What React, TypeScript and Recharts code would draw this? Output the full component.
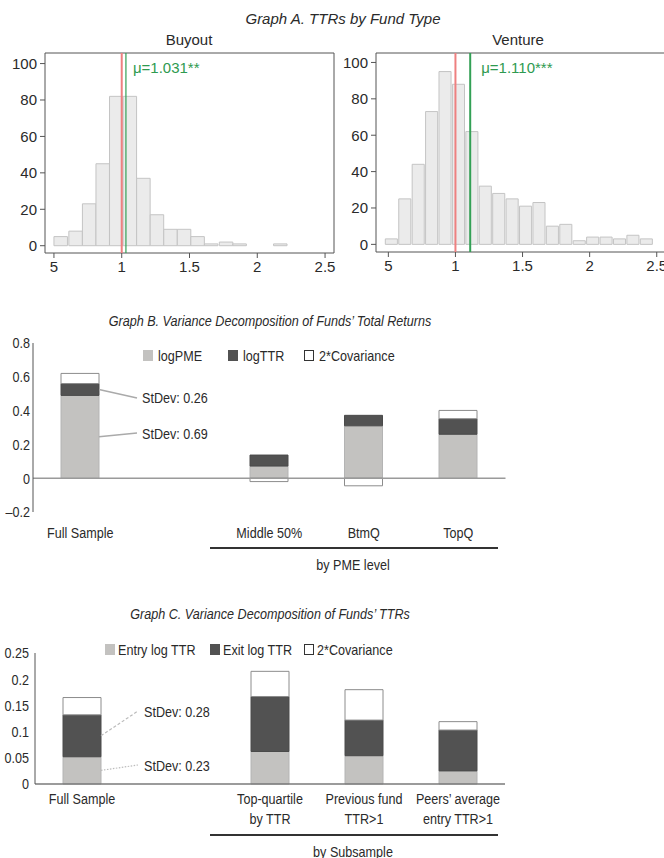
import React from "react";
import {
  Bar,
  BarChart,
  Legend,
  ReferenceArea,
  ReferenceLine,
  XAxis,
  YAxis,
} from "recharts";

// Graph A: histogram bin centres and fund counts
const buyoutBins = [0.55, 0.66, 0.76, 0.86, 0.96, 1.06, 1.16, 1.26, 1.36, 1.46, 1.56, 1.66, 1.77, 1.87, 1.97, 2.07, 2.17];
const buyoutCounts = [5, 8, 23, 45, 82, 82, 37, 17, 9, 9, 5, 1, 2, 1, 0, 0, 1];
const ventureBins = [0.52, 0.62, 0.72, 0.82, 0.92, 1.02, 1.12, 1.22, 1.32, 1.42, 1.52, 1.62, 1.72, 1.82, 1.92, 2.02, 2.12, 2.22, 2.32, 2.42];
const ventureCounts = [3, 25, 44, 73, 95, 88, 62, 32, 28, 25, 21, 23, 10, 11, 2, 4, 4, 3, 5, 3];
const histTicks = [0.5, 1, 1.5, 2, 2.5];
const histTickLabels = ["5", "1", "1.5", "2", "2.5"];
const countTicks = [0, 20, 40, 60, 80, 100];
const buyoutMean = 1.031;
const ventureMean = 1.11;

// Graph B: variance decomposition of total returns
const pmeCategories = ["Full Sample", "", "Middle 50%", "BtmQ", "TopQ"];
const pmeLogPME = [0.49, null, 0.072, 0.31, 0.26];
const pmeLogTTR = [0.07, null, 0.065, 0.062, 0.092];
const pmeCov = [0.06, null, -0.02, -0.045, 0.049];
const pmeTicks = [-0.2, 0, 0.2, 0.4, 0.6, 0.8];
const pmeTickLabels = ["\u20130.2", "0", "0.2", "0.4", "0.6", "0.8"];

// Graph C: variance decomposition of TTRs
const ttrCategories = ["Full Sample", "", "Top-quartile\nby TTR", "Previous fund\nTTR>1", "Peers\u2019 average\nentry TTR>1"];
const ttrEntry = [0.052, null, 0.062, 0.054, 0.025];
const ttrExit = [0.08, null, 0.105, 0.068, 0.078];
const ttrCov = [0.033, null, 0.048, 0.058, 0.016];
const ttrTicks = [0, 0.05, 0.1, 0.15, 0.2, 0.25];
const ttrTickLabels = ["0", "0.05", "0.1", "0.15", "0.2", "0.25"];

const SANS = '"Liberation Sans", Arial, Helvetica, sans-serif';
const FS = 15; // text size in graphs B and C (squeezed horizontally)
const SQ = 0.84;
const TEXT = "#2a2a2a";
const LIGHT = "#c3c2c0";
const DARK = "#525252";

const pmeSeries = [
  { key: "logPME", name: "logPME", fill: LIGHT, stroke: "#b4b4b4" },
  { key: "logTTR", name: "logTTR", fill: DARK, stroke: "#4a4a4a" },
  { key: "cov", name: "2*Covariance", fill: "#ffffff", stroke: "#8c8c8c" },
];
const ttrSeries = [
  { key: "entry", name: "Entry log TTR", fill: LIGHT, stroke: "#b4b4b4" },
  { key: "exit", name: "Exit log TTR", fill: DARK, stroke: "#4a4a4a" },
  { key: "cov", name: "2*Covariance", fill: "#ffffff", stroke: "#8c8c8c" },
];

const pmeData = pmeCategories.map((c, i) => ({
  cat: c,
  logPME: pmeLogPME[i],
  logTTR: pmeLogTTR[i],
  cov: pmeCov[i],
}));
const ttrData = ttrCategories.map((c, i) => ({
  cat: c,
  entry: ttrEntry[i],
  exit: ttrExit[i],
  cov: ttrCov[i],
}));

function Txt({ x, y, children, style, squeeze = 1 }: any) {
  return (
    <div
      style={{
        position: "absolute",
        left: x,
        top: y,
        transform: `translate(-50%, -50%) scaleX(${squeeze})`,
        whiteSpace: "nowrap",
        color: TEXT,
        ...style,
      }}
    >
      {children}
    </div>
  );
}

// narrow svg text: regular font squeezed horizontally
function SText({ x, y, anchor = "start", children }: any) {
  return (
    <text
      transform={`translate(${x} ${y}) scale(${SQ} 1)`}
      textAnchor={anchor}
      dominantBaseline="central"
      fill={TEXT}
      fontSize={FS}
      fontFamily={SANS}
    >
      {children}
    </text>
  );
}

function Histogram({ bins, counts, mean, meanLabel, xDomain, yDomain, left, width, margin, labelDx, meanWidth }: any) {
  const data = bins.map((b: number, i: number) => ({ bin: b, count: counts[i] }));
  return (
    <div style={{ position: "absolute", left, top: 0 }}>
      <BarChart width={width} height={280} data={data} margin={margin}>
        <XAxis
          dataKey="bin"
          type="number"
          domain={xDomain}
          ticks={histTicks}
          interval={0}
          allowDataOverflow
          tickFormatter={(v) => histTickLabels[histTicks.indexOf(v)]}
          axisLine={false}
          tickSize={5}
          tickMargin={3}
          height={22}
          stroke="#555"
          tick={{ fill: TEXT, fontSize: 15, fontFamily: SANS }}
        />
        <YAxis
          type="number"
          domain={yDomain}
          ticks={countTicks}
          interval={0}
          allowDataOverflow
          axisLine={false}
          tickSize={5}
          tickMargin={3}
          width={40}
          stroke="#555"
          tick={{ fill: TEXT, fontSize: 15, fontFamily: SANS }}
        />
        <Bar dataKey="count" fill="#ebebeb" stroke="#c4c4c4" barSize={13.5} isAnimationActive={false} />
        <ReferenceLine x={1} stroke="#ee8080" strokeWidth={2} />
        <ReferenceLine
          x={mean}
          stroke="#33a055"
          strokeWidth={meanWidth}
          label={({ viewBox }: any) => (
            <text
              x={viewBox.x + labelDx}
              y={viewBox.y + 20}
              fill="#2e9a50"
              fontSize={15}
              fontFamily={SANS}
            >
              {meanLabel}
            </text>
          )}
        />
        <ReferenceArea
          x1={xDomain[0]}
          x2={xDomain[1]}
          y1={yDomain[0]}
          y2={yDomain[1]}
          fill="none"
          stroke="#555"
          strokeWidth={1}
          ifOverflow="visible"
        />
      </BarChart>
    </div>
  );
}

function LegendBox({ series, xs, gap }: any) {
  return (
    <div style={{ position: "relative", height: 18, fontFamily: SANS, fontSize: FS, color: TEXT }}>
      {series.map((s: any, i: number) => (
        <div key={s.key} style={{ position: "absolute", left: xs[i], top: 0, display: "flex", alignItems: "center", whiteSpace: "nowrap", height: 18 }}>
          <span
            style={{
              display: "inline-block",
              width: 10,
              height: 11,
              background: s.fill,
              border: s.fill === "#ffffff" ? "1px solid #333" : "none",
              boxSizing: "border-box",
              marginRight: gap,
            }}
          />
          <span style={{ display: "inline-block", transform: `scaleX(${SQ})`, transformOrigin: "left center" }}>{s.name}</span>
        </div>
      ))}
    </div>
  );
}

function CategoryTick({ x, y, payload, dy }: any) {
  const lines = String(payload.value).split("\n");
  return (
    <g>
      {lines.map((l, i) => (
        <SText key={i} x={x} y={y + dy + i * 20} anchor="middle">
          {l}
        </SText>
      ))}
    </g>
  );
}

function ValueTick({ x, y, payload, ticks, labels }: any) {
  return (
    <SText x={x} y={y} anchor="end">
      {labels[ticks.indexOf(payload.value)]}
    </SText>
  );
}

// plot geometry of the two decomposition charts, used for the leader lines
const bTop = 343;
const bH = 169;
const cTop = 653;
const cH = 131;
const yB = (v: number) => bTop + ((0.8 - v) / 1.0) * bH;
const yC = (v: number) => cTop + ((0.25 - v) / 0.25) * cH;

export default function App() {
  return (
    <div
      style={{
        position: "fixed",
        left: 0,
        top: 0,
        width: 664,
        height: 858,
        overflow: "hidden",
        background: "#fff",
        fontFamily: SANS,
      }}
    >
      {/* Graph A */}
      <Txt x={343} y={18} style={{ fontStyle: "italic", fontSize: 15 }}>
        Graph A. TTRs by Fund Type
      </Txt>
      <Txt x={189} y={39} style={{ fontSize: 15 }}>Buyout</Txt>
      <Txt x={518} y={39} style={{ fontSize: 15 }}>Venture</Txt>
      <Histogram
        bins={buyoutBins}
        counts={buyoutCounts}
        mean={buyoutMean}
        meanLabel={"\u03bc=1.031**"}
        xDomain={[0.434, 2.566]}
        yDomain={[-4, 105.8]}
        left={0}
        width={340}
        margin={{ top: 53, right: 6, bottom: 5, left: 5 }}
        labelDx={7}
        meanWidth={1.2}
      />
      <Histogram
        bins={ventureBins}
        counts={ventureCounts}
        mean={ventureMean}
        meanLabel={"\u03bc=1.110***"}
        xDomain={[0.408, 2.569]}
        yDomain={[-4.2, 105.2]}
        left={336}
        width={334}
        margin={{ top: 53, right: 4, bottom: 6, left: 0 }}
        labelDx={11}
        meanWidth={2}
      />

      {/* Graph B */}
      <Txt x={270} y={320} squeeze={SQ} style={{ fontStyle: "italic", fontSize: 15 }}>
        Graph B. Variance Decomposition of Funds{"\u2019"} Total Returns
      </Txt>
      <div style={{ position: "absolute", left: 0, top: 300 }}>
        <BarChart
          width={520}
          height={250}
          data={pmeData}
          stackOffset="sign"
          barSize={38}
          margin={{ top: 43, right: 14.5, bottom: 8, left: 0 }}
        >
          <XAxis
            dataKey="cat"
            axisLine={false}
            tickLine={false}
            tickSize={0}
            tickMargin={0}
            height={30}
            interval={0}
            tick={<CategoryTick dy={21} />}
          />
          <YAxis
            type="number"
            domain={[-0.2, 0.8]}
            ticks={pmeTicks}
            interval={0}
            tickLine={false}
            tickSize={0}
            tickMargin={3}
            width={33}
            stroke="#555"
            tick={<ValueTick ticks={pmeTicks} labels={pmeTickLabels} />}
          />
          <Legend
            layout="horizontal"
            verticalAlign="middle"
            align="center"
            wrapperStyle={{ top: 46, left: 0, width: 520 }}
            content={() => <LegendBox series={pmeSeries} xs={[143, 228, 304]} gap={5} />}
          />
          {pmeSeries.map((s) => (
            <Bar
              key={s.key}
              dataKey={s.key}
              name={s.name}
              stackId="a"
              fill={s.fill}
              stroke={s.stroke}
              strokeWidth={1}
              isAnimationActive={false}
            />
          ))}
          <ReferenceLine y={0} stroke="#9a9a9a" strokeWidth={1.5} />
        </BarChart>
      </div>
      <div style={{ position: "absolute", left: 210, top: 547, width: 288, height: 1.5, background: "#333" }} />
      <Txt x={353} y={564} squeeze={SQ} style={{ fontSize: FS }}>by PME level</Txt>

      {/* Graph C */}
      <Txt x={270} y={613} squeeze={SQ} style={{ fontStyle: "italic", fontSize: 15 }}>
        Graph C. Variance Decomposition of Funds{"\u2019"} TTRs
      </Txt>
      <div style={{ position: "absolute", left: 0, top: 620 }}>
        <BarChart
          width={520}
          height={230}
          data={ttrData}
          barSize={38}
          margin={{ top: 33, right: 15, bottom: 6, left: 0 }}
        >
          <XAxis
            dataKey="cat"
            axisLine={false}
            tickLine={false}
            tickSize={0}
            tickMargin={0}
            height={60}
            interval={0}
            tick={<CategoryTick dy={15} />}
          />
          <YAxis
            type="number"
            domain={[0, 0.25]}
            ticks={ttrTicks}
            interval={0}
            tickLine={false}
            tickSize={0}
            tickMargin={6}
            width={35}
            stroke="#555"
            tick={<ValueTick ticks={ttrTicks} labels={ttrTickLabels} />}
          />
          <Legend
            layout="horizontal"
            verticalAlign="middle"
            align="center"
            wrapperStyle={{ top: 20, left: 0, width: 520 }}
            content={() => <LegendBox series={ttrSeries} xs={[105, 210, 304]} gap={3} />}
          />
          {ttrSeries.map((s) => (
            <Bar
              key={s.key}
              dataKey={s.key}
              name={s.name}
              stackId="a"
              fill={s.fill}
              stroke={s.stroke}
              strokeWidth={1}
              isAnimationActive={false}
            />
          ))}
          <ReferenceLine y={0} stroke="#7a7a7a" strokeWidth={1.5} />
        </BarChart>
      </div>
      <div style={{ position: "absolute", left: 210, top: 834, width: 288, height: 1.5, background: "#333" }} />
      <Txt x={353} y={851} squeeze={SQ} style={{ fontSize: FS }}>by Subsample</Txt>

      {/* StDev annotations with leader lines */}
      <svg width={664} height={858} style={{ position: "absolute", left: 0, top: 0, pointerEvents: "none" }}>
        <line x1={99} y1={yB(pmeLogPME[0] + pmeLogTTR[0] / 2)} x2={137} y2={398} stroke="#aaa" strokeWidth={1.5} />
        <line x1={99} y1={yB(pmeLogPME[0] / 2)} x2={137} y2={433} stroke="#aaa" strokeWidth={1.5} />
        <SText x={142} y={398}>StDev: 0.26</SText>
        <SText x={142} y={434}>StDev: 0.69</SText>
        <line x1={101} y1={yC(ttrEntry[0] + ttrExit[0] / 2)} x2={138} y2={711} stroke="#bbb" strokeWidth={1.2} strokeDasharray="3 2" />
        <line x1={101} y1={yC(ttrEntry[0] / 2)} x2={138} y2={765} stroke="#bbb" strokeWidth={1.2} strokeDasharray="1.5 1.5" />
        <SText x={144} y={712}>StDev: 0.28</SText>
        <SText x={144} y={766}>StDev: 0.23</SText>
      </svg>
    </div>
  );
}
